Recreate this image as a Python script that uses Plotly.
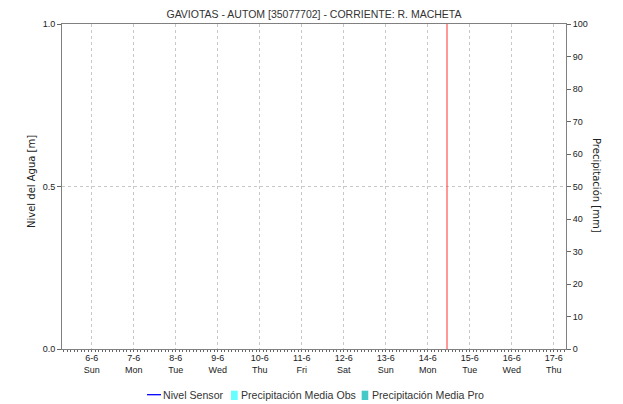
import plotly.graph_objects as go

# Data (the reference shows no data points; series are empty placeholders)
sensor_time = ["2021-06-06"]
sensor_level = [None]
precip_obs_time = ["2021-06-06"]
precip_obs = [None]
precip_pro_time = ["2021-06-06"]
precip_pro = [None]

tick_dates = ["2021-06-%02d" % d for d in range(6, 18)]
tick_labels = ["6-6<br>Sun", "7-6<br>Mon", "8-6<br>Tue", "9-6<br>Wed", "10-6<br>Thu",
               "11-6<br>Fri", "12-6<br>Sat", "13-6<br>Sun", "14-6<br>Mon", "15-6<br>Tue",
               "16-6<br>Wed", "17-6<br>Thu"]
x_range = ["2021-06-05 07:00", "2021-06-17 07:00"]
now_time = "2021-06-14 11:00"
title = "GAVIOTAS - AUTOM [35077702] - CORRIENTE: R. MACHETA"
names = ["Nivel Sensor", "Precipitación Media Obs", "Precipitación Media Pro"]
colors = ["#0000FF", "#66FFFF", "#44C8C8"]

fig = go.Figure()
fig.add_trace(go.Scatter(x=sensor_time, y=sensor_level, mode="lines", name=names[0],
                         line=dict(color=colors[0], width=1.3), showlegend=False))
fig.add_trace(go.Bar(x=precip_obs_time, y=precip_obs, name=names[1],
                     marker_color=colors[1], yaxis="y2", showlegend=False))
fig.add_trace(go.Bar(x=precip_pro_time, y=precip_pro, name=names[2],
                     marker_color=colors[2], yaxis="y2", showlegend=False))

# "now" marker
fig.add_shape(type="line", xref="x", yref="paper", x0=now_time, x1=now_time, y0=0, y1=1,
              line=dict(color="#FF3333", width=1))

# custom compact legend (below the plot)
leg_y = -0.1406
legend_font = dict(family="Liberation Sans, Arial, sans-serif", size=10.6, color="#333")
fig.add_shape(type="line", xref="paper", yref="paper", x0=0.1687, x1=0.1964, y0=leg_y, y1=leg_y,
              line=dict(color=colors[0], width=1.3))
fig.add_shape(type="rect", xref="paper", yref="paper", x0=0.3353, x1=0.3486, y0=-0.1569, y1=-0.1283,
              line=dict(width=0), fillcolor=colors[1])
fig.add_shape(type="rect", xref="paper", yref="paper", x0=0.5946, x1=0.6077, y0=-0.1569, y1=-0.1283,
              line=dict(width=0), fillcolor=colors[2])
for xpos, txt in zip([0.2010, 0.3546, 0.6141], names):
    fig.add_annotation(xref="paper", yref="paper", x=xpos, y=leg_y, text=txt, showarrow=False,
                       xanchor="left", yanchor="middle", font=legend_font, borderpad=0, xshift=-1)

# axis titles as rotated annotations
title_font = dict(family="DejaVu Sans, sans-serif", size=10, color="#222")
fig.add_annotation(xref="paper", yref="paper", x=-0.0595, y=0.514, text="Nivel del Agua [m]",
                   textangle=-90, showarrow=False, xanchor="center", yanchor="middle", font=title_font)
fig.add_annotation(xref="paper", yref="paper", x=1.0615, y=0.5015, text="Precipitación [mm]",
                   textangle=90, showarrow=False, xanchor="center", yanchor="middle", font=title_font)

font = "Liberation Sans, Arial, sans-serif"
fig.update_layout(
    width=623, height=404,
    margin=dict(l=54, r=65, t=16, b=63, autoexpand=False),
    paper_bgcolor="white", plot_bgcolor="white",
    font=dict(family=font, size=9, color="#222"),
    title=dict(text=title, x=0.5, xanchor="center", xref="paper", y=1 - 6 / 404, yanchor="middle",
               font=dict(size=10.5, color="#333")),
    showlegend=False,
    bargap=0,
    xaxis=dict(type="date", range=x_range, tickmode="array", tickvals=tick_dates,
               ticktext=tick_labels, showgrid=True, gridcolor="#C8C8C8", griddash="dot",
               gridwidth=1, showline=True, linecolor="#808080", mirror=True,
               ticks="", tickfont=dict(size=9, color="#222"), zeroline=False,
               minor=dict(dtick=2 * 3600 * 1000, ticks="outside", ticklen=2,
                          tickcolor="#666", showgrid=False)),
    yaxis=dict(range=[0, 1], tickvals=[0, 0.5, 1], ticktext=["0.0", "0.5", "1.0"],
               showgrid=True, gridcolor="#C8C8C8", griddash="dot", showline=True,
               linecolor="#808080", ticks="outside", ticklen=4, tickcolor="#666",
               zeroline=False),
    yaxis2=dict(range=[0, 100], dtick=10, overlaying="y", side="right", showgrid=False,
                showline=True, linecolor="#808080", ticks="outside", ticklen=4, tickcolor="#666",
                zeroline=False),
)

fig.write_html("out.html")
